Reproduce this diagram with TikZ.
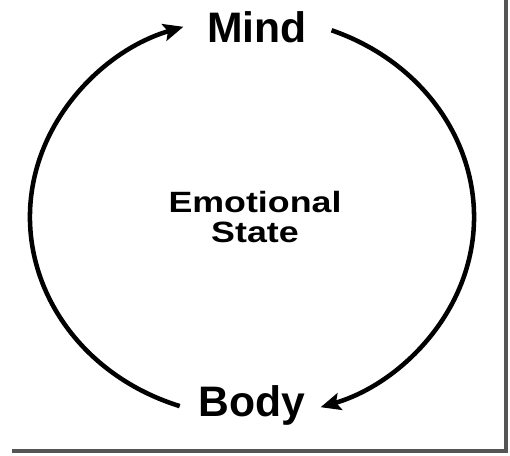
\documentclass[tikz,border=0pt]{standalone}
\usepackage{fontspec}
\setmainfont{Liberation Sans}
\usetikzlibrary{arrows.meta}
\definecolor{frame}{HTML}{555555}
\tikzset{
  cyc/.style={line width=3.4pt, -{Stealth[length=15pt,width=13pt,inset=3pt]}},
  big/.style={font=\fontsize{32}{36}\selectfont\bfseries, anchor=base, inner sep=0pt},
  mid/.style={font=\fontsize{22}{26}\selectfont\bfseries, anchor=base, inner sep=0pt, xscale=1.22}
}
\begin{document}
\begin{tikzpicture}[x=0.75pt,y=0.75pt]
\fill[white] (0,0) rectangle (510,456);
\useasboundingbox (0,0) rectangle (510,456);
% frame shadow
\draw[frame, line width=3pt] (505.5,456) -- (505.5,4.5) -- (12,4.5);
\node[big] (mind) at (257,413) {Mind};
\node[big] (body) at (252,39) {Body};
\node[mid] (emo) at (255,243) {Emotional};
\node[mid] (state) at (255,213) {State};
\coordinate (c) at (252,239);
\draw[cyc] ([shift={(251:222 and 200)}]c) arc[start angle=251, end angle=108, x radius=222, y radius=200];
\draw[cyc] ([shift={(69:222 and 200)}]c) arc[start angle=69, end angle=-72, x radius=222, y radius=200];
\end{tikzpicture}
\end{document}
